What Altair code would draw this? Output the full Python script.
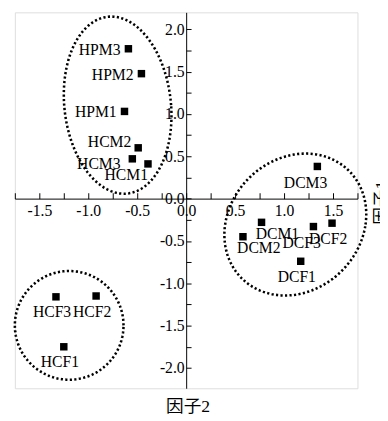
import altair as alt
import numpy as np
import pandas as pd

# ---- data ----
names = ["HPM3", "HPM2", "HPM1", "HCM2", "HCM3", "HCM1",
         "DCM3", "DCM1", "DCF3", "DCF2", "DCM2", "DCF1",
         "HCF3", "HCF2", "HCF1"]
factor2 = [-0.59, -0.457, -0.63, -0.49, -0.55, -0.39,
           1.34, 0.77, 1.30, 1.49, 0.58, 1.17,
           -1.33, -0.92, -1.25]
factor1 = [1.77, 1.476, 1.03, 0.60, 0.47, 0.41,
           0.38, -0.28, -0.33, -0.29, -0.45, -0.74,
           -1.16, -1.15, -1.75]
label_side = ["left", "left", "left", "left_high", "left_low", "below_left",
              "below_shift", "below_right", "below_shift", "below", "below_right", "below",
              "below", "below", "below"]

x_major = [-1.5, -1.0, -0.5, 0.0, 0.5, 1.0, 1.5]
x_minor = [-1.75, -1.5, -1.25, -1.0, -0.75, -0.5, -0.25, 0.0, 0.25, 0.5, 0.75, 1.0, 1.25, 1.5, 1.75]
y_major = [-2.0, -1.5, -1.0, -0.5, 0.0, 0.5, 1.0, 1.5, 2.0]
y_minor = [-2.0, -1.75, -1.5, -1.25, -1.0, -0.75, -0.5, -0.25, 0.0, 0.25, 0.5, 0.75,
           1.0, 1.25, 1.5, 1.75, 2.0]

# cluster ellipses (centre, radii, shear) in data units
ell_cx = [-0.70, 1.115, -1.195]
ell_cy = [1.104, -0.306, -1.497]
ell_rx = [0.546, 0.717, 0.555]
ell_ry = [1.046, 0.838, 0.642]
ell_shear = [-0.065, 0.105, 0.0]

x_title = "因子2"
y_title = "因子1"

# ---- layout ----
W, H = 350, 384
XD = [-1.75, 1.75]
YD = [-2.24, 2.2]
x_zero = W * (0 - XD[0]) / (XD[1] - XD[0])
y_zero = H * (YD[1] - 0) / (YD[1] - YD[0])
FONT = "Liberation Serif"
FS = 16
TFS = 18

pts = pd.DataFrame({"name": names, "f2": factor2, "f1": factor1, "side": label_side})

rows = []
t = np.linspace(0, 2 * np.pi, 240)
for k in range(len(ell_cx)):
    xs = ell_cx[k] + ell_rx[k] * np.cos(t) + ell_shear[k] * np.sin(t)
    ys = ell_cy[k] + ell_ry[k] * np.sin(t)
    for i, (a, b) in enumerate(zip(xs, ys)):
        rows.append({"e": k, "i": i, "f2": a, "f1": b})
ell = pd.DataFrame(rows)

xscale = alt.Scale(domain=XD, nice=False, zero=False)
yscale = alt.Scale(domain=YD, nice=False, zero=False)

label_expr = "(datum.value < 0 ? '-' : '') + format(abs(datum.value), '.1f')"

x_label_axis = alt.Axis(orient="bottom", offset=-(H - y_zero), values=x_major,
                        ticks=False, domain=False, grid=False, title=None,
                        labelExpr=label_expr, labelFont=FONT, labelFontSize=FS,
                        labelColor="black", labelPadding=4, labelOverlap=False,
                        labelFlush=False)
y_label_axis = alt.Axis(orient="left", offset=-x_zero, values=y_major,
                        ticks=False, domain=False, grid=False, title=None,
                        labelExpr=label_expr, labelFont=FONT, labelFontSize=FS,
                        labelColor="black", labelPadding=2, labelOverlap=False,
                        labelFlush=False, labelBaseline="middle")
x_tick_axis = alt.Axis(orient="top", offset=-y_zero, values=x_minor,
                       labels=False, ticks=True, tickSize=6, tickColor="black",
                       domain=True, domainColor="black", grid=False, title=None)
y_tick_axis = alt.Axis(orient="right", offset=-(W - x_zero), values=y_minor,
                       labels=False, ticks=True, tickSize=5, tickColor="black",
                       domain=True, domainColor="black", grid=False,
                       title=y_title, titleAngle=270, titleX=200, titleY=194,
                       titleFont=f"{FONT}, Noto Sans CJK SC", titleFontSize=TFS,
                       titleFontWeight="normal", titleColor="black",
                       titleAlign="center", titleBaseline="middle")

ellipses = alt.Chart(ell).mark_line(
    color="black", strokeWidth=2.6, strokeDash=[2.2, 2.4], strokeCap="butt"
).encode(
    x=alt.X("f2:Q", scale=xscale, axis=x_label_axis),
    y=alt.Y("f1:Q", scale=yscale, axis=y_label_axis),
    detail="e:N",
    order="i:Q",
)

points = alt.Chart(pts).mark_square(size=58, color="black", opacity=1).encode(
    x=alt.X("f2:Q", scale=xscale, axis=x_tick_axis),
    y=alt.Y("f1:Q", scale=yscale, axis=y_tick_axis),
)

placements = {
    "left": dict(align="right", dx=-8, dy=1),
    "left_low": dict(align="right", dx=-12, dy=5),
    "left_high": dict(align="right", dx=-7, dy=-6),
    "below_left": dict(align="right", dx=0, dy=11),
    "below": dict(align="center", dx=-4, dy=16),
    "below_shift": dict(align="center", dx=-12, dy=17),
    "below_right": dict(align="left", dx=-6, dy=12),
}

label_layers = []
for side, p in placements.items():
    label_layers.append(
        alt.Chart(pts).transform_filter(alt.datum.side == side).mark_text(
            font=FONT, fontSize=FS, color="black", baseline="middle", **p
        ).encode(
            x=alt.X("f2:Q", scale=xscale, axis=None),
            y=alt.Y("f1:Q", scale=yscale, axis=None),
            text="name:N",
        )
    )

chart = alt.layer(ellipses, points, *label_layers).resolve_axis(
    x="independent", y="independent"
).properties(
    width=W, height=H,
    autosize=alt.AutoSizeParams(type="none"),
    padding={"left": 7, "top": 0, "right": 23, "bottom": 30},
    title=alt.TitleParams(x_title, orient="bottom", frame="group", anchor="middle",
                          font=f"{FONT}, Noto Sans CJK SC", fontSize=TFS,
                          fontWeight="normal", color="black", offset=10, dx=2),
).configure_view(stroke=None).configure(background="white")

chart.save("out.html", embed_options={"renderer": "svg", "actions": False})
